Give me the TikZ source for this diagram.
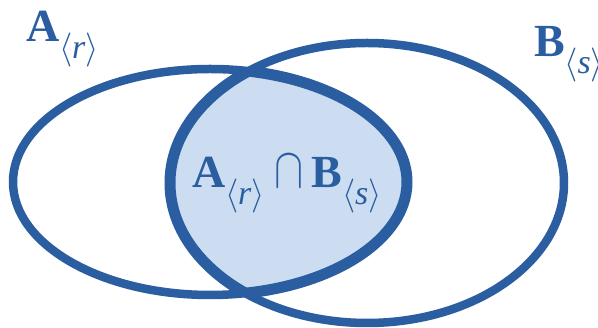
\RequirePackage{fix-cm}
\documentclass[tikz,border=0pt]{standalone}
\usepackage{fontspec}
\setmainfont{Liberation Serif}
\newfontface\subit{Liberation Serif Italic}
\usepackage{graphicx}
\definecolor{vblue}{RGB}{42,94,160}
\definecolor{vfill}{RGB}{204,221,242}
\newcommand{\subbr}[1]{\raisebox{-17pt}{\fontsize{34}{36}\selectfont$\langle$\kern-0.5pt{\subit #1}$\rangle$}}
\newcommand{\bigcapsym}{\scalebox{0.95}[1.25]{$\cap$}}
\tikzset{
  setline/.style={draw=vblue, line width=8.5pt},
  lensline/.style={draw=vblue, line width=11pt},
  setlabel/.style={anchor=base west, inner sep=0pt, text=vblue, font=\fontsize{46}{50}\selectfont}
}
\begin{document}
\begin{tikzpicture}[x=1pt,y=1pt]
\useasboundingbox (0,0) rectangle (598,328);
\fill[white] (0,0) rectangle (598,328);
\coordinate (ca) at (210,146);
\coordinate (cb) at (367,145);
% lens fill
\begin{scope}
  \clip (ca) ellipse [x radius=197pt, y radius=113pt];
  \fill[vfill] (cb) ellipse [x radius=197pt, y radius=140pt];
\end{scope}
% ellipses
\draw[setline] (ca) ellipse [x radius=197pt, y radius=113pt];
\draw[setline] (cb) ellipse [x radius=197pt, y radius=140pt];
% thicker lens boundary
\begin{scope}
  \clip (cb) ellipse [x radius=197pt, y radius=140pt];
  \draw[lensline] (ca) ellipse [x radius=197pt, y radius=113pt];
\end{scope}
\begin{scope}
  \clip (ca) ellipse [x radius=197pt, y radius=113pt];
  \draw[lensline] (cb) ellipse [x radius=197pt, y radius=140pt];
\end{scope}
% labels
\node[setlabel] (la) at (26,286) {\textbf{A}\subbr{r}};
\node[setlabel] (lb) at (534,271) {\textbf{B}\subbr{s}};
\node[setlabel] (lab) at (192,140) {\textbf{A}\subbr{r}\hspace{10pt}\bigcapsym\hspace{8pt}\textbf{B}\subbr{s}};
\end{tikzpicture}
\end{document}
